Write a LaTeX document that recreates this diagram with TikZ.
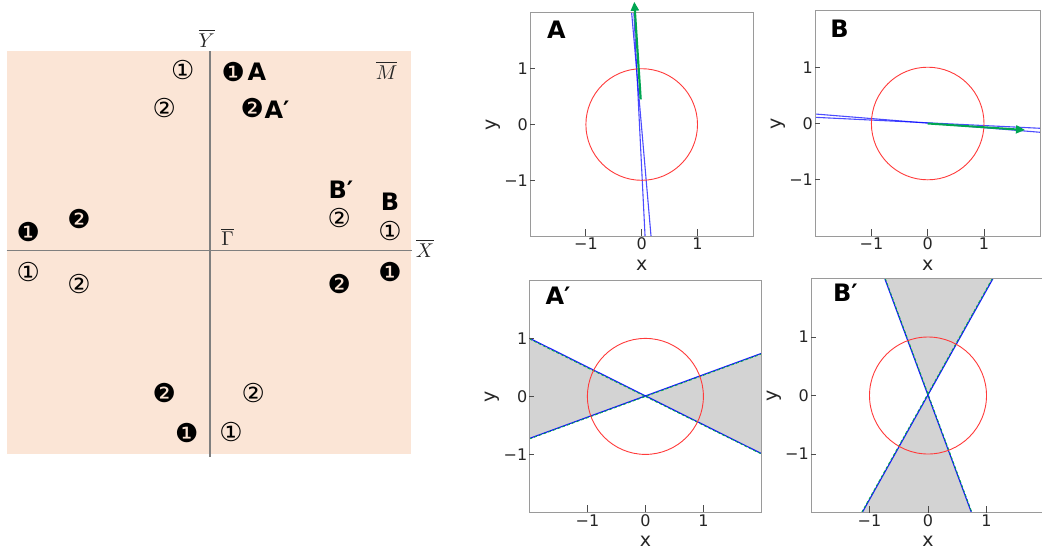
\documentclass[tikz,border=0pt]{standalone}
\usepackage{fontspec}
\setsansfont{DejaVu Sans}
\newfontfamily\symf{DejaVu Sans}
\usetikzlibrary{arrows.meta}
\definecolor{peach}{HTML}{FBE5D6}
\definecolor{axgray}{HTML}{7F7F7F}
\definecolor{framec}{HTML}{9A9A9A}
\definecolor{grn}{HTML}{00A651}
\definecolor{shadec}{HTML}{D3D3D3}
\definecolor{circred}{HTML}{FF3B3B}
\newcommand\mbig[1]{\scalebox{2}{$#1$}}
\tikzset{
  cn/.style={font=\symf\fontsize{26}{26}\selectfont, inner sep=0pt},
  big/.style={font=\symf\bfseries\fontsize{24}{24}\selectfont, inner sep=0pt},
  mlab/.style={text=black!85, inner sep=0pt},
  ticklab/.style={font=\sffamily\fontsize{16}{16}\selectfont, text=black!85, inner sep=0.5pt},
  axlab/.style={font=\sffamily\fontsize{19}{19}\selectfont, text=black!85, inner sep=0pt},
  frm/.style={draw=framec, line width=1pt, opacity=1},
  tk/.style={draw=black!70, line width=0.9pt},
  bl/.style={blue, opacity=0.7, line width=1.1pt},
  gd/.style={grn, dash pattern=on 3pt off 2pt, line width=0.8pt},
  circ/.style={circred, line width=0.9pt},
  garrow/.style={grn, line width=2.2pt, -{Triangle[length=9pt,width=8pt]}},
  axline/.style={axgray, line width=1.4pt}
}
\newcommand\panelaxes[1]{%
  \draw[frm] (-2,-2) rectangle (2,2);
  \foreach \t in {-1,0,1}{
    \draw[tk] (\t,-2) -- ++(0,7pt);
    \draw[tk] (-2,\t) -- ++(5pt,0);
  }
  \node[ticklab] (#1xm) at ([yshift=-8pt]-1,-2) {−1};
  \node[ticklab] (#1xz) at ([yshift=-8pt]0,-2) {0};
  \node[ticklab] (#1xp) at ([yshift=-8pt]1,-2) {1};
  \node[ticklab, anchor=east] (#1ym) at ([xshift=-1.5pt]-2,-1) {−1};
  \node[ticklab, anchor=east] (#1yz) at ([xshift=-1.5pt]-2,0) {0};
  \node[ticklab, anchor=east] (#1yp) at ([xshift=-1.5pt]-2,1) {1};
  \node[axlab] (#1xl) at ([yshift=-29pt]0,-2) {x};
  \node[axlab, rotate=90] (#1yl) at ([xshift=-37pt]-2,0) {y};
}
\begin{document}
\begin{tikzpicture}[x=1pt,y=-1pt]
\useasboundingbox (0,0) rectangle (1042,555);
% ---------- left panel ----------
\fill[peach] (7,51) rectangle (411,454);
\coordinate (ytop) at (210,51);
\coordinate (ybot) at (210,457);
\coordinate (xl) at (6.7,250.7);
\coordinate (xr) at (412.3,250.7);
\draw[axline] (ytop) -- (ybot);
\draw[axline] (xl) -- (xr);
\node[mlab] (Ybar) at (206.7,38.5) {\mbig{\overline{Y}}};
\node[mlab] (Xbar) at (425,248.5) {\mbig{\overline{X}}};
\node[mlab] (Mbar) at (386.7,70.5) {\mbig{\overline{M}}};
\node[mlab] (Gbar) at (227.7,237) {\mbig{\overline{\Gamma}}};
% circled markers
\node[cn] (q1a) at (182.7,70) {①};
\node[cn] (q1b) at (233.3,71.7) {❶};
\node[big] (lA) at (257,71.7) {A};
\node[cn] (q2a) at (164.3,108.3) {②};
\node[cn] (q2b) at (252.3,108.3) {❷};
\node[big] (lAp) at (277,110) {A′};
\node[big] (lBp) at (341,190) {B′};
\node[big] (lB) at (390,201.7) {B};
\node[cn] (r2a) at (339.3,217.7) {②};
\node[cn] (r1a) at (390,230.7) {①};
\node[cn] (l1b) at (28.3,231.7) {❶};
\node[cn] (l2b) at (79,219.3) {❷};
\node[cn] (l1a) at (28.3,272.3) {①};
\node[cn] (l2a) at (79,284.3) {②};
\node[cn] (r2b) at (339.3,284.3) {❷};
\node[cn] (r1b) at (390,272.3) {❶};
\node[cn] (b2b) at (164.3,392.7) {❷};
\node[cn] (b2a) at (253.3,392.7) {②};
\node[cn] (b1b) at (186.7,432.7) {❶};
\node[cn] (b1a) at (231,431.7) {①};
% ---------- panel A ----------
\begin{scope}[shift={(641.7pt,-124.5pt)},x=55.8pt,y=55.8pt]
  \begin{scope}
    \clip (-2,-2) rectangle (2,2);
    \draw[bl] (-0.18,2) -- (0.167,-2);
    \draw[bl] (-0.14,2) -- (0.06,-2);
  \end{scope}
  \draw[circ] (0,0) circle (1);
  \panelaxes{pa}
  \coordinate (gaS) at (-0.018,0.45);
  \coordinate (gaE) at (-0.133,2.2);
  \draw[garrow] (gaS) -- (gaE);
  \node[big, anchor=west] (tA) at ([xshift=16.7pt]-2,1.7) {A};
\end{scope}
% ---------- panel B ----------
\begin{scope}[shift={(927.7pt,-123.5pt)},x=56.3pt,y=56.3pt]
  \begin{scope}
    \clip (-2,-2) rectangle (2,2);
    \draw[bl] (-2,0.169) -- (2,-0.156);
    \draw[bl] (-2,0.11) -- (2,-0.085);
  \end{scope}
  \draw[circ] (0,0) circle (1);
  \panelaxes{pb}
  \coordinate (gbS) at (0,0);
  \coordinate (gbE) at (1.728,-0.115);
  \draw[garrow, line width=2pt] (gbS) -- (gbE);
  \node[big, anchor=west] (tB) at ([xshift=15pt]-2,1.68) {B};
\end{scope}
% ---------- panel A' ----------
\begin{scope}[shift={(645.4pt,-396.4pt)},x=58pt,y=58pt]
  \begin{scope}
    \clip (-2,-2) rectangle (2,2);
    \fill[shadec] (-2,1) -- (0,0) -- (-2,-0.73) -- cycle;
    \fill[shadec] (2,0.736) -- (0,0) -- (2,-0.99) -- cycle;
    \draw[bl, opacity=0.9] (-2,1.005) -- (2,-0.985);
    \draw[bl, opacity=0.9] (-2,-0.725) -- (2,0.742);
    \draw[gd] (-2,0.99) -- (2,-0.995);
    \draw[gd] (-2,-0.735) -- (2,0.73);
  \end{scope}
  \draw[circ] (0,0) circle (1);
  \panelaxes{pc}
  \node[big, anchor=west] (tAp) at ([xshift=16pt]-2,1.74) {A′};
\end{scope}
% ---------- panel B' ----------
\begin{scope}[shift={(928pt,-395.5pt)},x=58.5pt,y=58.5pt]
  \begin{scope}
    \clip (-2,-2) rectangle (2,2);
    \fill[shadec] (-0.735,2) -- (0,0) -- (1.106,2) -- cycle;
    \fill[shadec] (-1.13,-2) -- (0,0) -- (0.747,-2) -- cycle;
    \draw[bl, opacity=0.9] (-0.74,2) -- (0.742,-2);
    \draw[bl, opacity=0.9] (1.112,2) -- (-1.124,-2);
    \draw[gd] (-0.73,2) -- (0.752,-2);
    \draw[gd] (1.098,2) -- (-1.136,-2);
  \end{scope}
  \draw[circ] (0,0) circle (1);
  \panelaxes{pd}
  \node[big, anchor=west] (tBp) at ([xshift=22pt]-2,1.75) {B′};
\end{scope}
\end{tikzpicture}
\end{document}
